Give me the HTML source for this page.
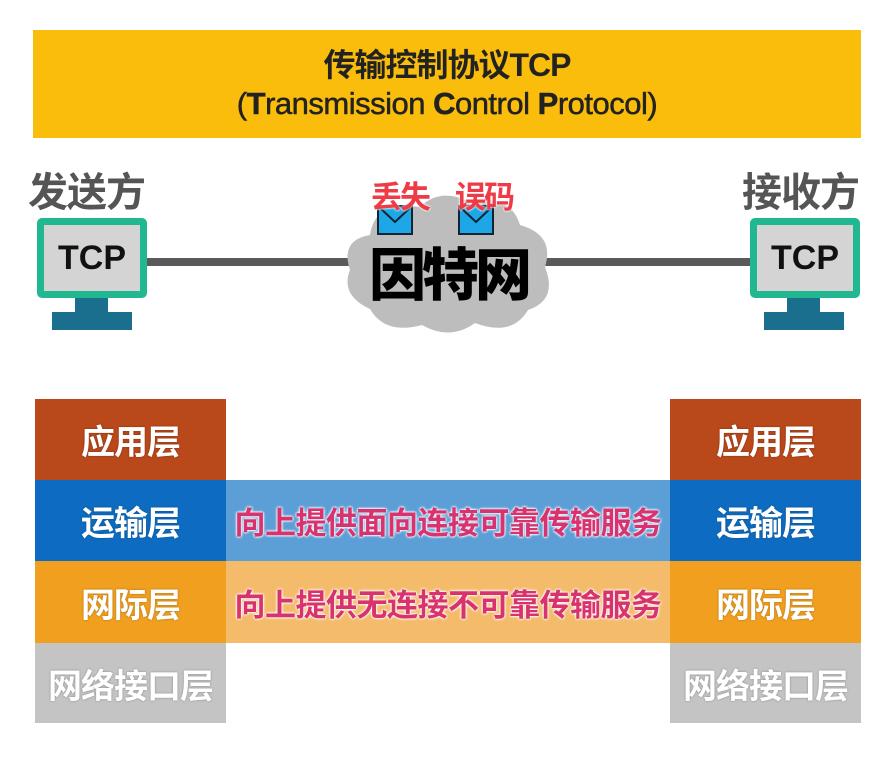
<!DOCTYPE html>
<html><head><meta charset="utf-8"><style>
*{margin:0;padding:0;box-sizing:border-box}
body{width:894px;height:757px;background:#fff;position:relative;overflow:hidden;font-family:"Liberation Sans","Noto Sans CJK SC",sans-serif}
.a{position:absolute}
.ban{left:33px;top:30px;width:828px;height:108px;background:#fabd0c;text-align:center;color:#222;font-weight:bold}
.cell{position:absolute;color:#fff;font-weight:bold;font-size:34px;display:flex;align-items:center;justify-content:center;text-shadow:0 0 2px rgba(0,0,0,.3);letter-spacing:-1px}
.mid{position:absolute;left:226px;width:444px;display:flex;align-items:center;justify-content:center;font-size:31px;font-weight:bold;color:#d8336f;text-shadow:0 0 2px #fff,0 0 2px #fff,0 0 3px #fff;letter-spacing:-0.5px;white-space:nowrap}
.mon{position:absolute;width:110px;height:80px;border:7px solid #21b791;border-radius:5px;background:#d4d4d4;display:flex;align-items:center;justify-content:center;font-size:34px;font-weight:bold;color:#111}
.side{position:absolute;font-size:40px;font-weight:bold;color:#555;letter-spacing:-1px}
</style></head><body>
<div class="a ban"><div style="font-size:32px;margin-top:10px;letter-spacing:-1px">传输控制协议TCP</div><div style="font-size:31px;margin-top:0px;font-weight:normal;-webkit-text-stroke:0.5px #222;letter-spacing:-0.5px">(<b>T</b>ransmission <b>C</b>ontrol <b>P</b>rotocol)</div></div>

<div class="side" style="left:28px;top:160px">发送方</div>
<div class="side" style="left:742px;top:160px">接收方</div>

<div class="a" style="left:145px;top:258px;width:610px;height:8px;background:#5a5a5a"></div>
<svg class="a" style="left:340px;top:185px" width="220" height="155" viewBox="0 0 220 155">
<path d="M30 50 Q35 15 80 22 Q100 2 130 17 Q170 8 180 40 Q215 50 205 82 Q218 115 188 125 Q172 152 135 138 Q110 156 82 140 Q45 150 30 124 Q0 110 10 85 Q0 55 30 50Z" fill="#bdbdbd"/>
</svg>
<div class="a" style="left:369px;top:230px;font-size:57px;font-weight:900;color:#000;letter-spacing:-4px">因特网</div>
<svg class="a" style="left:377px;top:205px" width="36" height="30"><rect x="1" y="1" width="34" height="28" fill="#1ea7e6" stroke="#123" stroke-width="2"/><path d="M1 1 L18 17 L35 1" fill="none" stroke="#123" stroke-width="2"/></svg>
<svg class="a" style="left:458px;top:205px" width="36" height="30"><rect x="1" y="1" width="34" height="28" fill="#1ea7e6" stroke="#123" stroke-width="2"/><path d="M1 1 L18 17 L35 1" fill="none" stroke="#123" stroke-width="2"/></svg>
<div class="a" style="left:371px;top:172px;font-size:31px;font-weight:bold;color:#ee3b46;text-shadow:0 0 2px #fff,0 0 2px #fff;letter-spacing:-2px">丢失</div>
<div class="a" style="left:455px;top:172px;font-size:31px;font-weight:bold;color:#ee3b46;text-shadow:0 0 2px #fff,0 0 2px #fff;letter-spacing:-2px">误码</div>

<div class="mon" style="left:37px;top:218px">TCP</div>
<div class="a" style="left:75px;top:298px;width:33px;height:14px;background:#1a6e8e"></div>
<div class="a" style="left:52px;top:312px;width:80px;height:18px;background:#1a6e8e"></div>
<div class="mon" style="left:750px;top:218px">TCP</div>
<div class="a" style="left:787px;top:298px;width:33px;height:14px;background:#1a6e8e"></div>
<div class="a" style="left:764px;top:312px;width:80px;height:18px;background:#1a6e8e"></div>

<div class="cell" style="left:35px;top:399px;width:191px;height:81px;background:#b9481b">应用层</div>
<div class="cell" style="left:35px;top:480px;width:191px;height:81px;background:#0d6cc1">运输层</div>
<div class="cell" style="left:35px;top:561px;width:191px;height:82px;background:#f09f1e">网际层</div>
<div class="cell" style="left:35px;top:643px;width:191px;height:80px;background:#c4c4c4">网络接口层</div>
<div class="cell" style="left:670px;top:399px;width:191px;height:81px;background:#b9481b">应用层</div>
<div class="cell" style="left:670px;top:480px;width:191px;height:81px;background:#0d6cc1">运输层</div>
<div class="cell" style="left:670px;top:561px;width:191px;height:82px;background:#f09f1e">网际层</div>
<div class="cell" style="left:670px;top:643px;width:191px;height:80px;background:#c4c4c4">网络接口层</div>
<div class="mid" style="top:480px;height:81px;background:#5c9ed6">向上提供面向连接可靠传输服务</div>
<div class="mid" style="top:561px;height:82px;background:#f4bb6a">向上提供无连接不可靠传输服务</div>
</body></html>
